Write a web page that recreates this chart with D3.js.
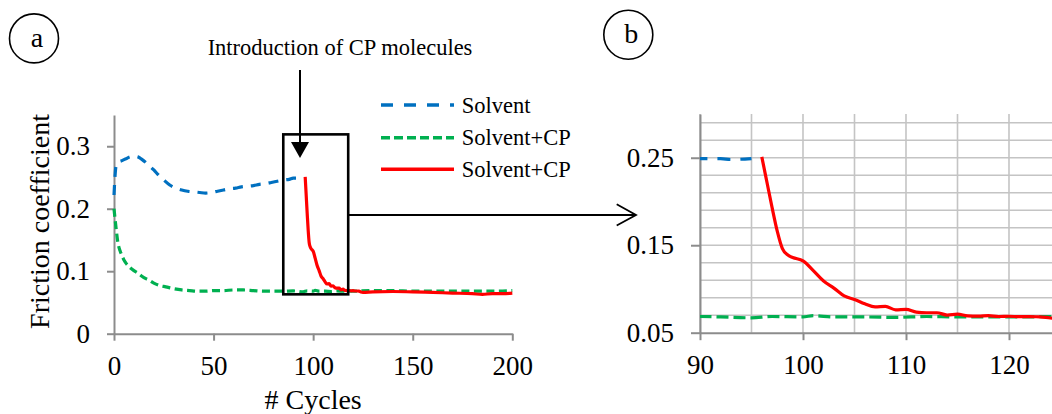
<!DOCTYPE html>
<html>
<head>
<meta charset="utf-8">
<script src="https://cdn.jsdelivr.net/npm/d3@7"></script>
<style>
    body { margin: 0; background: #fff; }
    svg { display: block; }
    svg text { font-family: "Liberation Serif", "Times New Roman", serif !important; fill: #000; }
</style>
</head>
<body>
<svg id="chart"></svg>
<script>

/* Solvent (blue, dashed) */
var solventCycles = [0, 1, 2, 4, 6, 8, 10, 12, 14, 16, 18, 20, 22, 25, 28, 31, 34, 37, 40, 43, 46, 49, 52, 55, 58, 61, 64, 67, 70, 73, 76, 79, 82, 85, 88, 90, 92, 93, 95]
var solventValues = [0.222, 0.268, 0.274, 0.277, 0.280, 0.283, 0.284, 0.283, 0.279, 0.274, 0.268, 0.262, 0.255, 0.246, 0.238, 0.233, 0.230, 0.228, 0.227, 0.226, 0.225, 0.226, 0.228, 0.230, 0.232, 0.233, 0.235, 0.236, 0.237, 0.239, 0.240, 0.242, 0.244, 0.246, 0.247, 0.249, 0.249, 0.248, 0.249]

/* Solvent+CP from the start (green, short dashes) */
var mixCycles = [0, 1, 2, 3, 4, 5, 6, 8, 10, 12, 14, 16, 18, 20, 23, 26, 30, 34, 38, 42, 46, 50, 55, 60, 65, 70, 75, 80, 85, 90, 92, 95, 97, 100, 101, 103, 106, 109, 112, 115, 118, 121, 124, 130, 140, 150, 160, 170, 180, 190, 200]
var mixValues = [0.200, 0.170, 0.145, 0.133, 0.125, 0.118, 0.113, 0.106, 0.101, 0.097, 0.092, 0.088, 0.085, 0.081, 0.077, 0.075, 0.072, 0.070, 0.069, 0.068, 0.068, 0.069, 0.069, 0.070, 0.070, 0.069, 0.068, 0.068, 0.068, 0.0685, 0.068, 0.067, 0.0685, 0.068, 0.0695, 0.068, 0.068, 0.0675, 0.0685, 0.068, 0.068, 0.068, 0.0685, 0.069, 0.069, 0.068, 0.068, 0.068, 0.068, 0.068, 0.069]

/* Solvent, then CP introduced (red, solid) */
var introCycles = [96, 96.5, 97, 97.5, 98, 98.5, 99, 100, 101, 102, 103, 104, 105, 106, 107, 108, 109, 110, 111, 112, 113, 114, 115, 116, 117, 118, 119, 120, 121, 122, 123, 124, 125, 130, 140, 150, 160, 170, 180, 185, 190, 195, 200]
var introValues = [0.251, 0.222, 0.193, 0.166, 0.146, 0.139, 0.136, 0.132, 0.121, 0.109, 0.101, 0.092, 0.088, 0.083, 0.0795, 0.080, 0.0762, 0.0766, 0.0735, 0.0728, 0.0728, 0.0702, 0.0712, 0.0692, 0.069, 0.0695, 0.0685, 0.0688, 0.0683, 0.0683, 0.0682, 0.0668, 0.0662, 0.067, 0.0675, 0.067, 0.066, 0.065, 0.064, 0.063, 0.064, 0.064, 0.065]

var seriesNames = ["Solvent", "Solvent+CP", "Solvent+CP"]

/* Ticks */
var xTicksA = [0, 50, 100, 150, 200]
var yTicksA = [0, 0.1, 0.2, 0.3]
var xTicksB = [90, 100, 110, 120]
var yTicksB = [0.05, 0.15, 0.25]
var xGridB = [90, 95, 100, 105, 110, 115, 120, 125]
var yGridB = [0.07, 0.09, 0.11, 0.13, 0.15, 0.17, 0.19, 0.21, 0.23, 0.25, 0.27, 0.29]

var width = 1052
var height = 414

var blue = "#0070c0"
var green = "#00b050"
var red = "#ff0000"
var axisGrey = "#8c8c8c"

var svg = d3.select("#chart")
    .attr("width", width)
    .attr("height", height)

function rows(xs, ys) {
    return xs.map((x, i) => [x, ys[i]])
}

var solvent = rows(solventCycles, solventValues)
var mix = rows(mixCycles, mixValues)
var intro = rows(introCycles, introValues)

/* ---------- Panel a ---------- */

var xA = d3.scaleLinear().domain([0, 200]).range([114, 512.3])
var yA = d3.scaleLinear().domain([0, 0.35]).range([333.7, 115])

var axisA = svg.append("g")

axisA.append("g")
    .attr("transform", "translate(0," + yA(0) + ")")
    .call(d3.axisBottom(xA).tickValues(xTicksA).tickFormat(d3.format("d")).tickSize(7).tickSizeOuter(0).tickPadding(15))

axisA.append("g")
    .attr("transform", "translate(" + xA(0) + ",0)")
    .call(d3.axisLeft(yA).tickValues(yTicksA).tickFormat((d) => d === 0 ? "0" : d3.format(".1f")(d)).tickSize(7).tickSizeOuter(0).tickPadding(17))

axisA.selectAll("path, line").attr("stroke", axisGrey).attr("stroke-width", 2)
axisA.selectAll("text").attr("font-size", 27)

var lineA = d3.line()
    .x((d) => xA(d[0]))
    .y((d) => yA(d[1]))
    .curve(d3.curveMonotoneX)

svg.append("path").datum(solvent)
    .attr("d", lineA).attr("fill", "none")
    .attr("stroke", blue).attr("stroke-width", 3.2).attr("stroke-dasharray", "10,8")

svg.append("path").datum(mix)
    .attr("d", lineA).attr("fill", "none")
    .attr("stroke", green).attr("stroke-width", 3.2).attr("stroke-dasharray", "8,4.5")

svg.append("path").datum(intro)
    .attr("d", lineA).attr("fill", "none")
    .attr("stroke", red).attr("stroke-width", 3.2)

/* Axis titles */
svg.append("text")
    .attr("transform", "translate(49," + 221.5 + ") rotate(-90)")
    .attr("text-anchor", "middle")
    .attr("font-size", 28)
    .text("Friction coefficient")

svg.append("text")
    .attr("x", xA(100)).attr("y", 409)
    .attr("text-anchor", "middle")
    .attr("font-size", 28)
    .text("# Cycles")

/* Legend */
var legend = svg.append("g")
var legendY = [105, 137.7, 169.3]
var legendStyles = [[blue, "12,11"], [green, "9,4"], [red, null]]

seriesNames.forEach((name, i) => {
    legend.append("line")
        .attr("x1", 381).attr("x2", 454)
        .attr("y1", legendY[i]).attr("y2", legendY[i])
        .attr("stroke", legendStyles[i][0]).attr("stroke-width", 3.5)
        .attr("stroke-dasharray", legendStyles[i][1])
    legend.append("text")
        .attr("x", 461.7).attr("y", legendY[i] + 7.7)
        .attr("font-size", 22.5)
        .text(name)
})

/* Introduction annotation */
svg.append("text")
    .attr("x", 340).attr("y", 54.5)
    .attr("text-anchor", "middle")
    .attr("font-size", 22.5)
    .text("Introduction of CP molecules")

svg.append("line")
    .attr("x1", 300).attr("x2", 300).attr("y1", 70).attr("y2", 143)
    .attr("stroke", "#000").attr("stroke-width", 2)

svg.append("path")
    .attr("d", "M291,142 L309,142 L300,158 Z")
    .attr("fill", "#000")

/* Zoom box and arrow to panel b */
svg.append("rect")
    .attr("x", xA(85)).attr("y", yA(0.319))
    .attr("width", xA(117.6) - xA(85)).attr("height", yA(0.063) - yA(0.319))
    .attr("fill", "none").attr("stroke", "#000").attr("stroke-width", 2.6)

svg.append("line")
    .attr("x1", xA(117.6)).attr("x2", 636).attr("y1", 215).attr("y2", 215)
    .attr("stroke", "#000").attr("stroke-width", 1.8)

svg.append("path")
    .attr("d", "M616.7,204.3 L636,215 L616.7,225.5")
    .attr("fill", "none").attr("stroke", "#000").attr("stroke-width", 1.8)

/* Panel labels */
function panelLabel(cx, cy, letter) {
    svg.append("circle")
        .attr("cx", cx).attr("cy", cy).attr("r", 24.5)
        .attr("fill", "none").attr("stroke", "#000").attr("stroke-width", 1.6)
    svg.append("text")
        .attr("x", cx + 3).attr("y", cy + 8.5)
        .attr("text-anchor", "middle")
        .attr("font-size", 28)
        .text(letter)
}
panelLabel(34, 38.4, "a")
panelLabel(628.3, 34.7, "b")

/* ---------- Panel b ---------- */

var xB = d3.scaleLinear().domain([90, 125]).range([700, 1060.5])
var yB = d3.scaleLinear().domain([0.05, 0.30]).range([332.7, 114])

var grid = svg.append("g")
    .attr("stroke", "#c4c4c4").attr("stroke-width", 1.6)

grid.selectAll("line.h")
    .data(yGridB)
    .enter()
        .append("line")
            .attr("x1", xB(90)).attr("x2", xB(125))
            .attr("y1", (d) => yB(d)).attr("y2", (d) => yB(d))

grid.selectAll("line.v")
    .data(xGridB)
    .enter()
        .append("line")
            .attr("x1", (d) => xB(d)).attr("x2", (d) => xB(d))
            .attr("y1", yB(0.30)).attr("y2", yB(0.05))

var axisB = svg.append("g")

axisB.append("g")
    .attr("transform", "translate(0," + yB(0.05) + ")")
    .call(d3.axisBottom(xB).tickValues(xTicksB).tickFormat(d3.format("d")).tickSize(7.5).tickSizeOuter(0).tickPadding(15))

axisB.append("g")
    .attr("transform", "translate(" + xB(90) + ",0)")
    .call(d3.axisLeft(yB).tickValues(yTicksB).tickFormat(d3.format(".2f")).tickSize(9).tickSizeOuter(0).tickPadding(17))

axisB.selectAll("path, line").attr("stroke", axisGrey).attr("stroke-width", 2)
axisB.selectAll("text").attr("font-size", 27)

svg.append("clipPath").attr("id", "clipB")
    .append("rect")
        .attr("x", xB(90)).attr("y", 100)
        .attr("width", xB(125) - xB(90)).attr("height", 240)

var lineB = d3.line()
    .x((d) => xB(d[0]))
    .y((d) => yB(d[1]))
    .curve(d3.curveMonotoneX)

var plotB = svg.append("g").attr("clip-path", "url(#clipB)")

plotB.append("path").datum(solvent.filter((d) => d[0] >= 85))
    .attr("d", lineB).attr("fill", "none")
    .attr("stroke", blue).attr("stroke-width", 3.2).attr("stroke-dasharray", "13,10")

plotB.append("path").datum(mix.filter((d) => d[0] >= 85 && d[0] <= 130))
    .attr("d", lineB).attr("fill", "none")
    .attr("stroke", green).attr("stroke-width", 3.2).attr("stroke-dasharray", "12,5")

plotB.append("path").datum(intro.filter((d) => d[0] <= 130))
    .attr("d", lineB).attr("fill", "none")
    .attr("stroke", red).attr("stroke-width", 3.2)

</script>
</body>
</html>
